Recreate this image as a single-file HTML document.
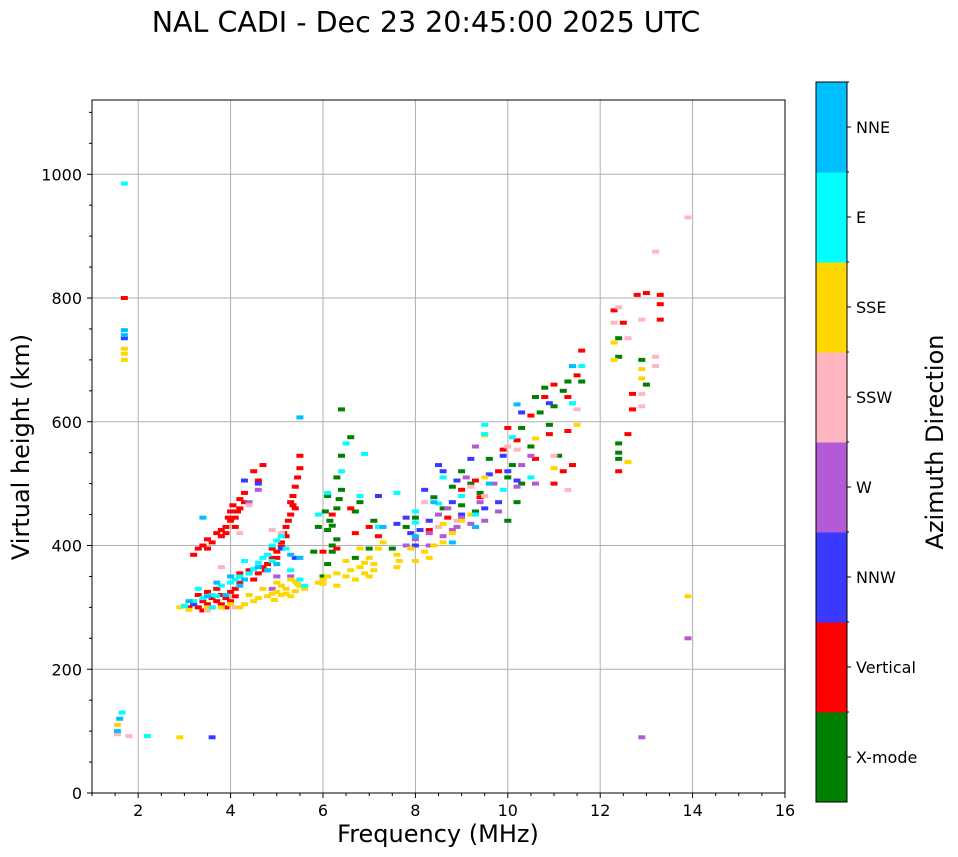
<!DOCTYPE html>
<html><head><meta charset="utf-8"><style>
body{margin:0;background:#fff;}
svg{display:block;font-family:"DejaVu Sans","Liberation Sans",sans-serif;}
</style></head><body>
<svg id="chart" width="958" height="857">
<text x="426" y="32" font-size="28.5" text-anchor="middle">NAL CADI - Dec 23 20:45:00 2025 UTC</text>
<g id="grid"></g>
<g id="marks"></g>
<g id="axes"></g>
<g id="cbar"></g>
<text x="438" y="842" font-size="24" text-anchor="middle">Frequency (MHz)</text>
<text transform="translate(29,447) rotate(-90)" font-size="24" text-anchor="middle">Virtual height (km)</text>
<text transform="translate(943,442) rotate(-90)" font-size="24" text-anchor="middle">Azimuth Direction</text>
</svg>
<script>
const directions=["X-mode","Vertical","NNW","W","SSW","SSE","E","NNE"];
const dirColors=["#008000","#ff0000","#3a3aff","#b45ad6","#ffb6c1","#ffd700","#00ffff","#00bfff"];
const xTicks=[2,4,6,8,10,12,14,16];
const yTicks=[0,200,400,600,800,1000];
const xMode=[[6.0,350],[6.1,370],[6.2,400],[6.1,425],[6.3,410],[6.15,440],[6.3,460],[6.1,480],[6.4,490],[6.3,510],[6.4,545],[6.4,620],[6.7,380],[6.8,470],[6.7,455],[7.0,395],[7.1,440],[6.6,575],[5.8,390],[5.9,430],[6.05,455],[6.2,432],[6.35,475],[6.2,390],[7.5,395],[7.8,430],[8.0,445],[8.4,478],[8.8,495],[9.0,520],[9.3,455],[9.4,485],[9.0,465],[9.6,540],[8.6,460],[9.2,500],[10.0,440],[10.2,470],[10.3,500],[10.0,510],[10.5,560],[10.3,590],[10.7,615],[10.8,655],[11.1,545],[11.3,665],[11.6,665],[11.0,625],[10.9,595],[10.1,530],[10.6,640],[11.2,650],[12.4,565],[12.4,550],[12.4,540],[12.4,705],[12.9,700],[12.4,735],[13.0,660]];
const vertical=[[3.1,300],[3.2,305],[3.3,300],[3.4,310],[3.5,305],[3.6,315],[3.7,310],[3.8,320],[3.9,315],[4.0,325],[3.3,320],[3.5,325],[3.7,330],[4.1,330],[4.2,340],[4.3,345],[4.2,355],[4.4,360],[3.9,300],[4.0,310],[3.4,295],[3.6,300],[3.8,305],[4.1,318],[3.2,385],[3.3,395],[3.4,400],[3.5,410],[3.6,405],[3.7,420],[3.8,425],[3.9,430],[4.0,440],[4.1,445],[4.15,455],[4.2,460],[3.9,420],[4.1,430],[4.3,470],[4.2,475],[4.3,485],[4.6,505],[4.5,520],[4.7,530],[3.5,395],[3.8,415],[4.0,455],[4.05,465],[3.95,445],[4.5,345],[4.6,355],[4.7,365],[4.8,370],[4.9,380],[5.0,390],[5.1,405],[5.15,420],[5.2,430],[5.25,440],[5.3,450],[5.3,470],[5.35,480],[5.4,495],[5.45,510],[5.5,525],[5.5,545],[5.4,460],[5.2,415],[4.9,395],[5.0,380],[4.75,360],[5.1,398],[5.35,465],[6.0,390],[6.3,395],[6.7,420],[7.0,430],[6.2,450],[6.6,460],[7.2,415],[8.3,425],[8.7,445],[9.0,490],[9.3,505],[9.8,520],[10.0,590],[10.2,570],[9.4,478],[9.9,555],[10.5,610],[10.6,540],[10.9,580],[11.0,500],[11.0,660],[11.3,640],[11.4,530],[11.5,675],[11.6,715],[10.8,640],[11.2,520],[11.3,585],[12.3,780],[12.8,805],[13.0,808],[13.3,805],[13.3,790],[12.7,645],[12.7,620],[12.6,580],[12.4,520],[13.3,765],[12.5,760],[1.7,800]];
const nnw=[[3.2,305],[4.4,355],[4.3,505],[4.6,500],[5.1,395],[5.4,380],[7.6,435],[7.9,420],[8.2,490],[8.3,440],[8.6,520],[8.8,470],[9.0,450],[9.2,540],[9.6,515],[9.9,545],[10.0,520],[10.2,505],[10.3,615],[7.2,480],[8.0,400],[8.5,530],[9.8,470],[10.9,630],[1.7,735],[3.6,90],[7.8,445],[8.9,505],[8.1,425],[9.5,460]];
const west=[[4.6,490],[4.4,470],[5.0,350],[5.3,350],[4.9,330],[8.0,410],[8.3,400],[8.5,450],[8.7,460],[8.9,430],[9.0,445],[9.2,435],[9.5,440],[9.8,455],[8.3,420],[8.6,415],[9.1,510],[9.4,470],[10.2,495],[10.6,500],[10.3,530],[10.5,545],[7.8,400],[9.7,500],[9.3,560],[8.8,425],[9.3,430],[13.9,250],[12.9,90]];
const ssw=[[3.0,303],[3.5,295],[4.1,300],[4.2,420],[4.4,465],[3.8,365],[4.9,425],[5.1,420],[8.5,430],[8.9,440],[9.2,495],[9.5,480],[8.2,470],[10.0,560],[10.2,555],[11.0,545],[11.5,620],[11.3,490],[12.3,760],[12.4,785],[12.6,735],[12.9,765],[12.9,645],[12.9,625],[13.2,705],[13.2,690],[13.2,875],[13.9,930],[1.55,95],[1.8,92]];
const sse=[[2.9,300],[3.1,296],[3.5,300],[3.8,300],[4.0,305],[4.3,305],[4.5,310],[4.6,315],[4.8,318],[4.9,322],[5.0,325],[5.1,320],[5.2,330],[5.3,318],[5.4,326],[5.5,335],[5.6,330],[4.7,330],[5.0,340],[5.3,345],[4.2,300],[4.4,320],[5.4,342],[5.2,322],[5.45,338],[5.1,335],[4.95,312],[5.9,340],[6.0,345],[6.1,350],[6.3,355],[6.5,350],[6.6,360],[6.8,365],[6.9,372],[7.0,380],[7.1,360],[7.2,395],[6.7,345],[7.0,350],[7.3,405],[6.5,375],[7.6,365],[7.65,375],[7.6,385],[7.9,395],[6.3,335],[6.8,395],[6.9,355],[7.1,370],[6.0,338],[8.2,390],[8.4,400],[8.6,405],[8.8,420],[8.6,435],[9.0,440],[9.2,450],[9.5,510],[9.5,578],[8.3,380],[8.0,375],[10.6,573],[11.5,595],[11.0,525],[12.3,728],[12.3,700],[12.9,685],[12.9,670],[12.6,535],[13.9,318],[1.7,700],[1.7,710],[1.7,718],[2.9,90],[1.55,110]];
const east=[[3.0,302],[3.2,310],[3.4,315],[3.6,320],[3.8,335],[4.0,340],[4.2,350],[4.4,355],[4.5,362],[4.6,372],[4.7,380],[4.8,385],[4.9,400],[5.0,408],[5.1,415],[5.2,395],[5.3,360],[5.5,345],[5.6,335],[4.3,375],[3.6,300],[3.3,330],[4.9,375],[4.1,345],[3.7,318],[6.5,565],[6.9,548],[6.4,520],[5.9,450],[6.8,480],[7.2,430],[6.1,485],[8.0,455],[8.5,468],[9.0,480],[9.5,580],[9.5,595],[9.3,450],[9.9,490],[7.6,485],[8.6,510],[10.1,575],[10.5,510],[11.4,630],[11.6,690],[1.7,985],[1.65,130],[2.2,92],[8.0,437]];
const nne=[[3.1,310],[3.5,318],[3.7,340],[4.0,350],[4.3,345],[4.6,365],[5.0,370],[5.3,385],[5.5,380],[4.8,360],[3.9,320],[4.2,335],[3.4,445],[7.3,430],[8.0,415],[8.4,470],[8.8,405],[9.3,430],[9.6,500],[10.2,628],[11.4,690],[1.7,740],[1.7,748],[1.6,120],[1.55,100],[5.5,607]];
const seriesList=[xMode,vertical,nnw,west,ssw,sse,east,nne];

const NS="http://www.w3.org/2000/svg";
const L=92,R=785,T=100,B=793,X0=1,X1=16,Y0=0,Y1=1120;
const sx=f=>L+(f-X0)/(X1-X0)*(R-L);
const sy=h=>B-(h-Y0)/(Y1-Y0)*(B-T);
function mk(tag,attrs,parent){const e=document.createElementNS(NS,tag);for(const k in attrs)e.setAttribute(k,attrs[k]);parent.appendChild(e);return e;}
const grid=document.getElementById('grid'),marks=document.getElementById('marks'),axes=document.getElementById('axes'),cbar=document.getElementById('cbar');
xTicks.forEach(t=>{const x=sx(t);
 if(t<X1){const g=mk('line',{x1:x,x2:x,y1:T,y2:B,stroke:'#b0b0b0','stroke-width':1},grid);
 
 }
 mk('line',{x1:x,x2:x,y1:B,y2:B+5,stroke:'#000'},axes);
 const tx=mk('text',{x:x,y:B+23,'font-size':16,'text-anchor':'middle'},axes);tx.textContent=t;
 
 });
for(let m=1;m<=16;m+=0.5){if(m%2!==0)mk('line',{x1:sx(m),x2:sx(m),y1:B,y2:B+3,stroke:'#000'},axes);}
yTicks.forEach(t=>{const y=sy(t);
 if(t>0){const g=mk('line',{x1:L,x2:R,y1:y,y2:y,stroke:'#b0b0b0','stroke-width':1},grid);
 
 }
 mk('line',{x1:L-5,x2:L,y1:y,y2:y,stroke:'#000'},axes);
 const tx=mk('text',{x:L-10,y:y+6,'font-size':16,'text-anchor':'end'},axes);tx.textContent=t;
 
 });
for(let m=0;m<=1100;m+=50){if(m%200!==0)mk('line',{x1:L-3,x2:L,y1:sy(m),y2:sy(m),stroke:'#000'},axes);}
seriesList.forEach((s,i)=>{s.forEach(p=>{
 const r=mk('rect',{x:sx(p[0])-3.5,y:sy(p[1])-2,width:7,height:4,fill:dirColors[i]},marks);
 
 });});
const frame=mk('rect',{x:L,y:T,width:R-L,height:B-T,fill:'none',stroke:'#000','stroke-width':1},axes);


const CT=82,CB=802,CL=816,CW=31,seg=(CB-CT)/directions.length;
directions.forEach((d,i)=>{const y=CB-(i+1)*seg;
 const r=mk('rect',{x:CL,y:y,width:CW,height:seg+0.5,fill:dirColors[i]},cbar);
 
 
 mk('line',{x1:CL+CW,x2:CL+CW+4,y1:y+seg/2,y2:y+seg/2,stroke:'#000'},cbar);
 mk('line',{x1:CL+CW,x2:CL+CW+2,y1:y,y2:y,stroke:'#000'},cbar);
 const t=mk('text',{x:CL+CW+9,y:y+seg/2+6,'font-size':16},cbar);t.textContent=d;
 
 });
mk('rect',{x:CL,y:CT,width:CW,height:CB-CT,fill:'none',stroke:'#000'},cbar);
</script>
</body></html>
